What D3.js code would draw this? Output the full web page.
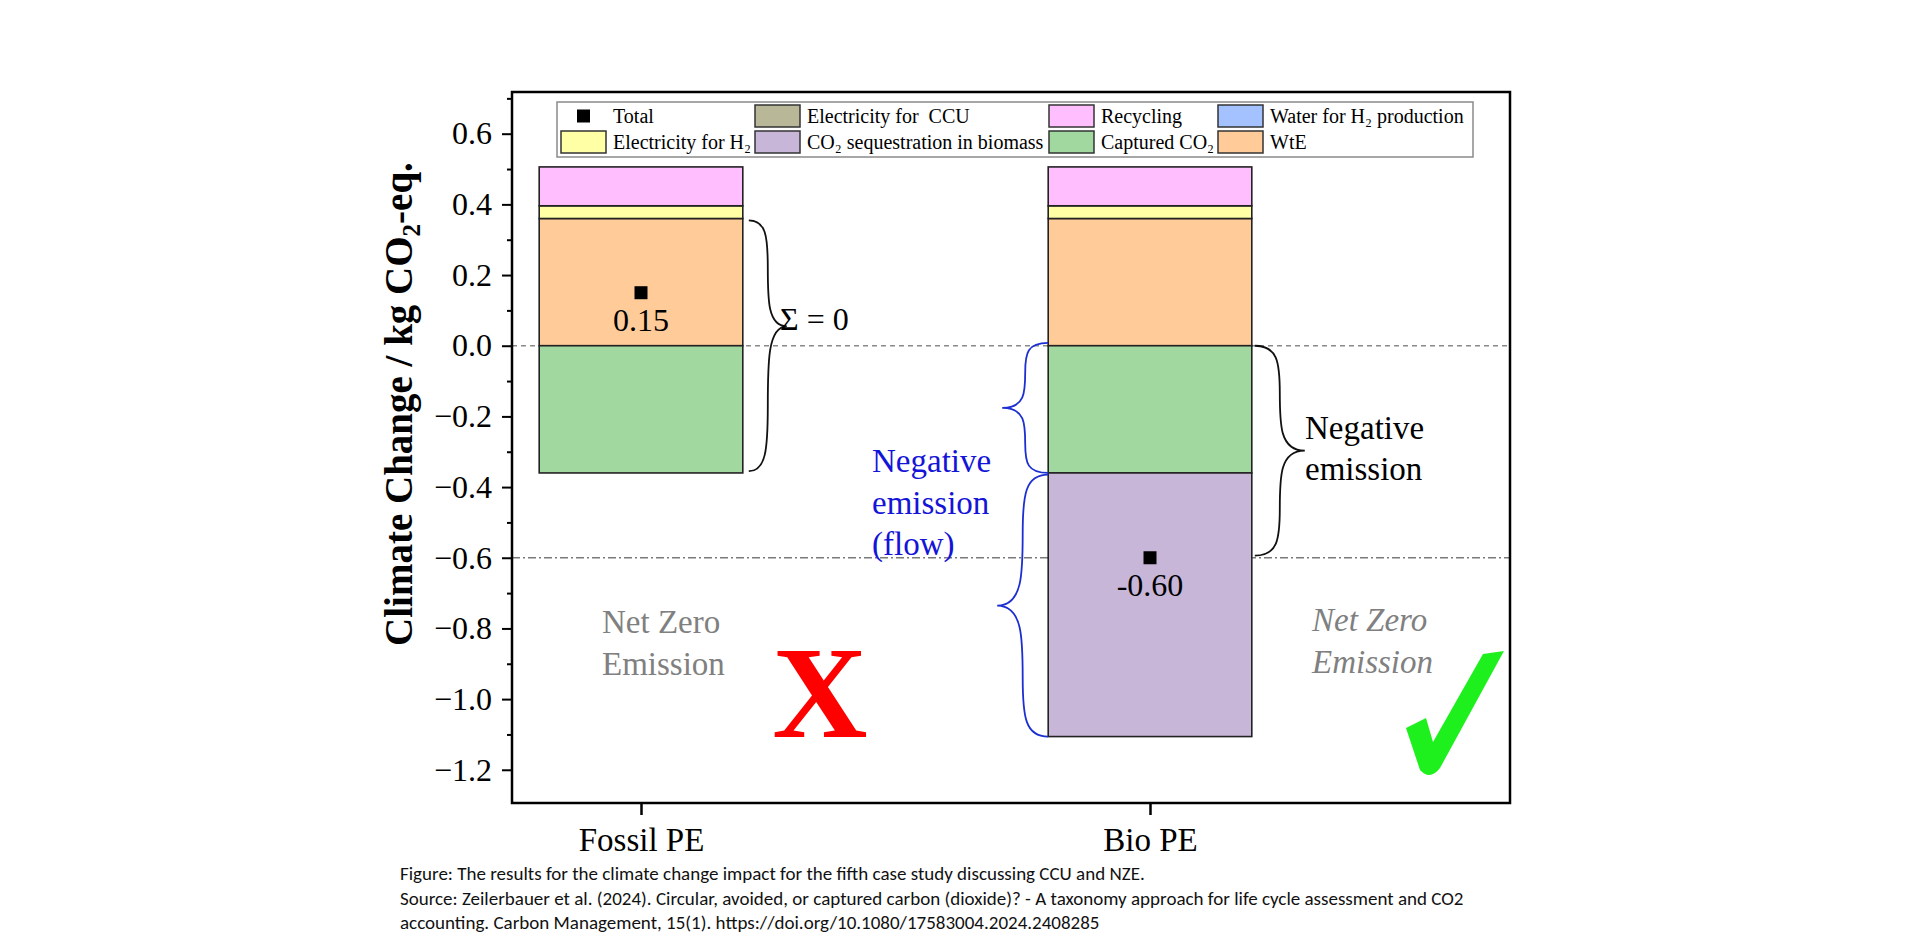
<!DOCTYPE html>
<html>
<head>
<meta charset="utf-8">
<script src="https://cdn.jsdelivr.net/npm/d3@7"></script>
<style>
  body { margin: 0; background: #fff; }
  svg text { font-family: "Liberation Serif", "Times New Roman", serif; }
</style>
</head>
<body>
<svg id="chart" width="1920" height="940"></svg>
<script>
// values (kg CO2-eq.)
const categories = ["Fossil PE", "Bio PE"];
const wte = [0.36, 0.36];
const electricityH2 = [0.036, 0.036];
const recycling = [0.11, 0.11];
const electricityCCU = [0, 0];
const waterH2 = [0, 0];
const capturedCO2 = [-0.36, -0.36];
const sequestration = [0, -0.746];
const totals = [0.15, -0.60];
const totalLabels = ["0.15", "-0.60"];
const yMajorTicks = [0.6, 0.4, 0.2, 0.0, -0.2, -0.4, -0.6, -0.8, -1.0, -1.2];
const yMinorTicks = [0.7, 0.5, 0.3, 0.1, -0.1, -0.3, -0.5, -0.7, -0.9, -1.1];

// legend entries, in the order they appear (row by row)
const legendRow1 = ["Total", "Electricity for  CCU", "Recycling", "Water for H\u2082 production"];
const legendRow2 = ["Electricity for H\u2082", "CO\u2082 sequestration in biomass", "Captured CO\u2082", "WtE"];

const colors = {
    "WtE": "#ffcc99",
    "Electricity for  CCU": "#b8b898",
    "Water for H\u2082 production": "#a3c2ff",
    "Electricity for H\u2082": "#ffffa6",
    "Recycling": "#ffbfff",
    "Captured CO\u2082": "#a0d8a0",
    "CO\u2082 sequestration in biomass": "#c8b6d8"
};

const svg = d3.select("#chart");
const frame = { left: 512, right: 1510, top: 92, bottom: 803 };

const y = d3.scaleLinear().domain([-1.294, 0.718]).range([frame.bottom, frame.top]);
// category index -> pixel, 0 at 641 and 1 at 1150
const x = d3.scaleLinear()
    .domain([(frame.left - 641) / 509, (frame.right - 641) / 509])
    .range([frame.left, frame.right]);
const barWidth = x(0.4) - x(0);

// stack table built from the arrays
const keys = ["WtE", "Electricity for  CCU", "Water for H\u2082 production", "Electricity for H\u2082",
              "Recycling", "Captured CO\u2082", "CO\u2082 sequestration in biomass"];
const columns = [wte, electricityCCU, waterH2, electricityH2, recycling, capturedCO2, sequestration];
const table = categories.map(function(c, i) {
    let row = { idx: i };
    keys.forEach(function(k, j) { row[k] = columns[j][i]; });
    return row;
});
const stacked = d3.stack().keys(keys).offset(d3.stackOffsetDiverging)(table);

// reference lines (behind the bars)
svg.append("line")
    .attr("x1", frame.left).attr("x2", frame.right)
    .attr("y1", y(0)).attr("y2", y(0))
    .attr("stroke", "#8a8a8a").attr("stroke-width", 1.3)
    .attr("stroke-dasharray", "5,4");
svg.append("line")
    .attr("x1", frame.left).attr("x2", frame.right)
    .attr("y1", y(totals[1])).attr("y2", y(totals[1]))
    .attr("stroke", "#7a7a7a").attr("stroke-width", 1.3)
    .attr("stroke-dasharray", "8,3,2,3");

// bars
svg.append("g").selectAll("g")
    .data(stacked)
    .join("g")
    .attr("fill", function(s) { return colors[s.key]; })
    .selectAll("rect")
    .data(function(s) { return s.filter(function(d) { return d[1] !== d[0]; }); })
    .join("rect")
    .attr("x", function(d) { return x(d.data.idx) - barWidth / 2; })
    .attr("width", barWidth)
    .attr("y", function(d) { return y(Math.max(d[0], d[1])); })
    .attr("height", function(d) { return Math.abs(y(d[0]) - y(d[1])); })
    .attr("stroke", "#222")
    .attr("stroke-width", 1.6);

// totals
svg.append("g").selectAll("rect")
    .data(totals)
    .join("rect")
    .attr("x", function(d, i) { return x(i) - 6.5; })
    .attr("y", function(d) { return y(d) - 6.5; })
    .attr("width", 13).attr("height", 13)
    .attr("fill", "#000");
svg.append("g").selectAll("text")
    .data(totals)
    .join("text")
    .attr("x", function(d, i) { return x(i); })
    .attr("y", function(d) { return y(d) + 38; })
    .attr("text-anchor", "middle")
    .attr("font-size", 32)
    .text(function(d, i) { return totalLabels[i]; });

// frame
svg.append("rect")
    .attr("x", frame.left).attr("y", frame.top)
    .attr("width", frame.right - frame.left).attr("height", frame.bottom - frame.top)
    .attr("fill", "none").attr("stroke", "#000").attr("stroke-width", 2.5);

// y axis, major + minor ticks
const yAxis = svg.append("g")
    .attr("transform", "translate(" + frame.left + ",0)")
    .call(d3.axisLeft(y).tickValues(yMajorTicks).tickSize(10).tickPadding(10)
        .tickFormat(d3.format(".1f")));
yAxis.select(".domain").remove();
yAxis.selectAll("line").attr("stroke-width", 2);
yAxis.selectAll("text").attr("font-size", 32).attr("font-family", "Liberation Serif");
const yMinor = svg.append("g")
    .attr("transform", "translate(" + frame.left + ",0)")
    .call(d3.axisLeft(y).tickValues(yMinorTicks).tickSize(5).tickFormat(""));
yMinor.select(".domain").remove();
yMinor.selectAll("line").attr("stroke-width", 2);

// x axis
const xAxis = svg.append("g")
    .attr("transform", "translate(0," + frame.bottom + ")")
    .call(d3.axisBottom(x).tickValues([0, 1]).tickSize(12).tickPadding(12.6)
        .tickFormat(function(i) { return categories[i]; }));
xAxis.select(".domain").remove();
xAxis.selectAll("line").attr("stroke-width", 2.5);
xAxis.selectAll("text").attr("font-size", 33).attr("font-family", "Liberation Serif");

// y title
const yTitle = svg.append("text")
    .attr("transform", "translate(412,404) rotate(-90)")
    .attr("text-anchor", "middle")
    .attr("font-size", 39)
    .attr("font-weight", "bold");
yTitle.append("tspan").text("Climate Change / kg CO");
yTitle.append("tspan").attr("font-size", 25).attr("dy", 8).text("2");
yTitle.append("tspan").attr("dy", -8).text("-eq.");

// legend
const legend = svg.append("g");
legend.append("rect")
    .attr("x", 557).attr("y", 102).attr("width", 916).attr("height", 55)
    .attr("fill", "#fff").attr("stroke", "#8a8a8a").attr("stroke-width", 1.5);
const colX = [561, 755, 1049, 1218];
const rowY = [116, 142];
[legendRow1, legendRow2].forEach(function(row, r) {
    row.forEach(function(name, c) {
        if (name === "Total") {
            legend.append("rect")
                .attr("x", colX[c] + 16).attr("y", rowY[r] - 6.5)
                .attr("width", 13).attr("height", 13).attr("fill", "#000");
        } else {
            legend.append("rect")
                .attr("x", colX[c]).attr("y", rowY[r] - 11)
                .attr("width", 45).attr("height", 22)
                .attr("fill", colors[name]).attr("stroke", "#333").attr("stroke-width", 1.5);
        }
        legend.append("text")
            .attr("x", colX[c] + 52).attr("y", rowY[r] + 7)
            .attr("font-size", 20)
            .style("white-space", "pre")
            .text(name);
    });
});

// curly braces
function bracePath(x0, yTop, yBot, depth, dir, yTip) {
    const ym = (yTip === undefined) ? (yTop + yBot) / 2 : yTip;
    const xs = x0 + dir * depth * 0.5, xt = x0 + dir * depth;
    const h1 = ym - yTop, h2 = yBot - ym;
    return "M" + x0 + "," + yTop +
        "C" + (x0 + dir * depth * 0.45) + "," + yTop + " " + xs + "," + (yTop + h1 * 0.15) + " " + xs + "," + (yTop + h1 * 0.45) +
        "C" + xs + "," + (yTop + h1 * 0.75) + " " + xs + "," + ym + " " + xt + "," + ym +
        "C" + xs + "," + ym + " " + xs + "," + (ym + h2 * 0.25) + " " + xs + "," + (ym + h2 * 0.55) +
        "C" + xs + "," + (ym + h2 * 0.85) + " " + (x0 + dir * depth * 0.45) + "," + yBot + " " + x0 + "," + yBot;
}
const fossilRight = x(0) + barWidth / 2, bioLeft = x(1) - barWidth / 2, bioRight = x(1) + barWidth / 2;
svg.append("path")
    .attr("d", bracePath(fossilRight + 6, y(0.355), y(-0.355), 38, 1, y(0.055)))
    .attr("fill", "none").attr("stroke", "#111").attr("stroke-width", 1.8);
svg.append("path")
    .attr("d", bracePath(bioLeft, y(0.008), y(-0.36), 46, -1))
    .attr("fill", "none").attr("stroke", "#1c2fd1").attr("stroke-width", 1.8);
svg.append("path")
    .attr("d", bracePath(bioLeft, y(-0.365), y(-1.106), 51, -1))
    .attr("fill", "none").attr("stroke", "#1c2fd1").attr("stroke-width", 1.8);
svg.append("path")
    .attr("d", bracePath(bioRight + 3, y(0), y(-0.594), 50, 1))
    .attr("fill", "none").attr("stroke", "#111").attr("stroke-width", 1.8);

// annotations
function lines(xp, y0, step, texts, attrs) {
    const t = svg.append("text").attr("font-size", 33);
    for (let k in attrs) t.attr(k, attrs[k]);
    texts.forEach(function(s, i) {
        t.append("tspan").attr("x", xp).attr("y", y0 + i * step).text(s);
    });
    return t;
}
svg.append("text").attr("x", 780).attr("y", 330).attr("font-size", 32).text("\u03a3 = 0");
lines(872, 472, 41.6, ["Negative", "emission", "(flow)"], { fill: "#1414d8" });
lines(1305, 439, 41, ["Negative", "emission"], {});
lines(602, 633, 42, ["Net Zero", "Emission"], { fill: "#808080" });
lines(1312, 631, 42, ["Net Zero", "Emission"], { fill: "#808080", "font-style": "italic" });

svg.append("text")
    .attr("x", 820).attr("y", 737)
    .attr("text-anchor", "middle")
    .attr("font-size", 132).attr("font-weight", "bold")
    .attr("fill", "#ff0000")
    .text("X");
svg.append("path")
    .attr("d", "M1406,728 L1426,718 L1433,742 L1483,654 L1504,651 L1440,768 Q1430,781 1420,770 Z")
    .attr("fill", "#1ef01e");

// caption
const caption = [
    "Figure: The results for the climate change impact for the fifth case study discussing CCU and NZE.",
    "Source: Zeilerbauer et al. (2024). Circular, avoided, or captured carbon (dioxide)? - A taxonomy approach for life cycle assessment and CO2",
    "accounting. Carbon Management, 15(1). https://doi.org/10.1080/17583004.2024.2408285"
];
svg.append("g").selectAll("text")
    .data(caption)
    .join("text")
    .attr("x", 400)
    .attr("y", function(d, i) { return 880 + i * 24.5; })
    .attr("font-size", 19)
    .attr("fill", "#111")
    .style("font-family", "Carlito, Calibri, Lato, sans-serif")
    .text(function(d) { return d; });
</script>
</body>
</html>
